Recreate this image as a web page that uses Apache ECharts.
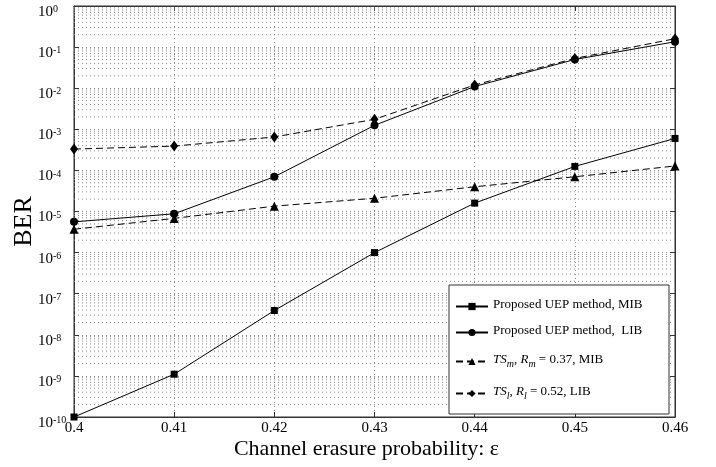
<!DOCTYPE html>
<html>
<head>
<meta charset="utf-8">
<script src="https://cdn.jsdelivr.net/npm/echarts@6/dist/echarts.min.js"></script>
<style>html,body{margin:0;padding:0;background:#fff}#c{width:716px;height:467px}</style>
</head>
<body>
<div id="c"></div>
<script>
var eps = [0.40, 0.41, 0.42, 0.43, 0.44, 0.45, 0.46];
var mibBER = [1.0e-10, 1.1e-9, 3.9e-8, 1.0e-6, 1.6e-5, 1.25e-4, 6.0e-4];
var libBER = [5.6e-6, 8.8e-6, 7.0e-5, 1.25e-3, 1.1e-2, 5.0e-2, 0.135];
var tsmBER = [3.7e-6, 6.8e-6, 1.35e-5, 2.1e-5, 4.0e-5, 7.0e-5, 1.28e-4];
var tslBER = [3.3e-4, 3.9e-4, 6.5e-4, 1.75e-3, 1.2e-2, 5.3e-2, 0.16];
var names = ['Proposed UEP method, MIB', 'Proposed UEP method,  LIB', 'TSm, Rm = 0.37, MIB', 'TSl, Rl = 0.52, LIB'];
var xTicks = ['0.4', '0.41', '0.42', '0.43', '0.44', '0.45', '0.46'];

var FONT = 'Liberation Serif';
function pairs(ys) { return eps.map(function (x, i) { return [x, ys[i]]; }); }

// minor grid positions (2..9 in each decade)
var minorGrid = [];
for (var d = -10; d < 0; d++) {
  for (var k = 2; k <= 9; k++) minorGrid.push(k * Math.pow(10, d));
}
var gridStyle = { color: '#8a8a8a', type: [1, 3], width: 1 };

var chart = echarts.init(document.getElementById('c'));
var legRich = {
  n: { fontFamily: FONT, fontSize: 13, lineHeight: 15, padding: [0, 0, 3, 0], verticalAlign: 'bottom', color: '#000' },
  i: { fontFamily: FONT, fontSize: 13, fontStyle: 'italic', lineHeight: 15, padding: [0, 0, 3, 0], verticalAlign: 'bottom', color: '#000' },
  is: { fontFamily: FONT, fontSize: 10, fontStyle: 'italic', lineHeight: 10, verticalAlign: 'bottom', color: '#000' }
};
function legFmt(name) {
  if (name === names[2]) return '{i|TS}{is|m}{n|, }{i|R}{is|m}{n| = 0.37, MIB}';
  if (name === names[3]) return '{i|TS}{is|l}{n|, }{i|R}{is|l}{n| = 0.52, LIB}';
  return '{n|' + name + '}';
}
var legendYs = [304, 330, 359, 391];
var legends = names.map(function (nm, idx) {
  return {
    data: [nm], left: 455, top: legendYs[idx] - 6, orient: 'vertical',
    itemWidth: 32, itemHeight: 9, padding: 0, z: 20, selectedMode: false,
    formatter: legFmt,
    textStyle: { fontFamily: FONT, fontSize: 13, color: '#000', rich: legRich }
  };
});

chart.setOption({
  animation: false,
  backgroundColor: '#fff',
  grid: { left: 74, right: 41, top: 6, bottom: 50, outerBoundsMode: 'none', containLabel: false,
    show: true, borderColor: '#333', borderWidth: 1, backgroundColor: 'transparent' },
  legend: legends,
  graphic: [{ type: 'rect', shape: { x: 449, y: 285, width: 220, height: 129 }, style: { fill: '#fff', stroke: '#333', lineWidth: 1 }, z: 10 }],
  xAxis: [{
    type: 'value', min: 0.4, max: 0.46, interval: 0.01,
    name: 'Channel erasure probability: ε', nameLocation: 'middle', nameGap: 21, nameMoveOverlap: false,
    nameTextStyle: { fontFamily: FONT, fontSize: 22, color: '#000', padding: [0, 16, 0, 0] },
    axisLine: { lineStyle: { color: '#333' } },
    axisTick: { inside: true, length: 5, lineStyle: { color: '#333' } },
    axisLabel: { margin: 4, fontFamily: FONT, fontSize: 15, color: '#000',
      formatter: function (v) { return xTicks[Math.round((v - 0.4) * 100)]; } },
    splitLine: { show: true, lineStyle: gridStyle }
  }, {
    type: 'value', min: 0.4, max: 0.46, interval: 0.01, position: 'top',
    axisLine: { show: true, lineStyle: { color: '#333' } },
    axisTick: { inside: true, length: 5, lineStyle: { color: '#333' } },
    axisLabel: { show: false }, splitLine: { show: false }
  }],
  yAxis: [{
    type: 'log', logBase: 10, min: 1e-10, max: 1, interval: 1,
    name: 'BER', nameLocation: 'middle', nameGap: 37, nameRotate: 90, nameMoveOverlap: false,
    nameTextStyle: { fontFamily: FONT, fontSize: 26, color: '#000', padding: [0, 20, 0, 0] },
    axisLine: { show: true, lineStyle: { color: '#333' } },
    axisTick: { inside: true, length: 5, lineStyle: { color: '#333' } },
    axisLabel: {
      margin: 36, align: 'left', color: '#000', showMinLabel: true, showMaxLabel: true,
      padding: [11, 0, 0, 0],
      formatter: function (v) { return '{b|10}{s|' + Math.round(Math.log10(v)) + '}'; },
      rich: {
        b: { fontFamily: FONT, fontSize: 15, lineHeight: 16, verticalAlign: 'bottom', color: '#000' },
        s: { fontFamily: FONT, fontSize: 10, lineHeight: 10, padding: [7, 0, 11, 0], color: '#000' }
      }
    },
    splitLine: { show: true, lineStyle: gridStyle }
  }, {
    type: 'log', logBase: 10, min: 1e-10, max: 1, interval: 1, position: 'right',
    axisLine: { show: true, lineStyle: { color: '#333' } },
    axisTick: { inside: true, length: 5, lineStyle: { color: '#333' } },
    axisLabel: { show: false }, splitLine: { show: false }
  }],
  series: [{
    type: 'custom', silent: true, z: 1,
    data: minorGrid.map(function (v) { return [v]; }),
    encode: { y: 0 },
    renderItem: function (params, api) {
      var v = api.value(0);
      var p1 = api.coord([0.4, v]);
      var p2 = api.coord([0.46, v]);
      return { type: 'line', shape: { x1: p1[0], y1: p1[1], x2: p2[0], y2: p2[1] },
        style: { stroke: '#8a8a8a', lineWidth: 1, lineDash: [1, 3] } };
    }
  }, {
    name: names[0], type: 'line', data: pairs(mibBER),
    symbol: 'rect', symbolSize: 7, color: '#000',
    lineStyle: { color: '#000', width: 1 }, itemStyle: { color: '#000' }
  }, {
    name: names[1], type: 'line', data: pairs(libBER),
    symbol: 'circle', symbolSize: 8, color: '#000',
    lineStyle: { color: '#000', width: 1 }, itemStyle: { color: '#000' }
  }, {
    name: names[2], type: 'line', data: pairs(tsmBER),
    symbol: 'triangle', symbolSize: 9, color: '#000',
    lineStyle: { color: '#000', width: 1, type: [7, 4] }, itemStyle: { color: '#000' }
  }, {
    name: names[3], type: 'line', data: pairs(tslBER),
    symbol: 'diamond', symbolSize: [8, 11], color: '#000',
    lineStyle: { color: '#000', width: 1, type: [7, 4] }, itemStyle: { color: '#000' }
  }]
});
</script>
</body>
</html>
